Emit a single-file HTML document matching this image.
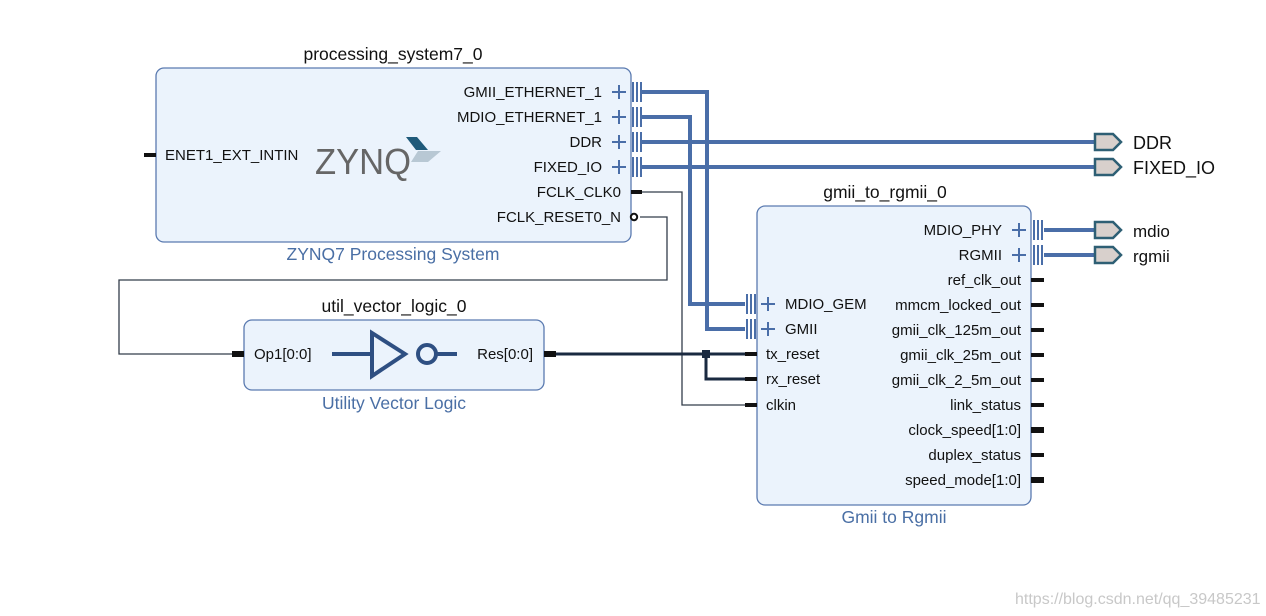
<!DOCTYPE html>
<html><head><meta charset="utf-8"><style>
html,body{margin:0;padding:0;background:#fff;}
svg{display:block;}
text{font-family:"Liberation Sans",sans-serif;}
</style></head><body>
<svg width="1266" height="616" viewBox="0 0 1266 616" xmlns="http://www.w3.org/2000/svg">
<rect width="1266" height="616" fill="#fff"/>
<g fill="none" stroke="#333d4a" stroke-width="1.3">
<polyline points="642,192 682,192 682,405 745,405"/>
<polyline points="640,217 667,217 667,280 119,280 119,354 232,354"/>
</g>
<g fill="none" stroke="#1a2a40" stroke-width="3">
<polyline points="556,354 745,354"/>
<polyline points="706,354 706,379 745,379"/>
</g>
<rect x="702" y="350" width="8" height="8" fill="#1a2a40"/>
<g fill="none" stroke="#4a6ea8" stroke-width="4">
<polyline points="642,92 707,92 707,329 745,329"/>
<polyline points="642,117 690,117 690,304 745,304"/>
<polyline points="642,142 1094,142"/>
<polyline points="642,167 1094,167"/>
<polyline points="1044,230 1094,230"/>
<polyline points="1044,255 1094,255"/>
</g>
<text x="393" y="60" font-size="17.5" text-anchor="middle" fill="#111">processing_system7_0</text>
<rect x="156" y="68" width="475" height="174" rx="8" fill="#ebf3fc" stroke="#5a7ab0" stroke-width="1.3"/>
<text x="393" y="260" font-size="17.5" text-anchor="middle" fill="#4a6fa5">ZYNQ7 Processing System</text>
<rect x="144" y="153" width="12" height="4" fill="#111"/>
<text x="165" y="160" font-size="15" fill="#111">ENET1_EXT_INTIN</text>
<text x="315" y="174" font-size="36" fill="#666" textLength="96" lengthAdjust="spacingAndGlyphs">ZYNQ</text>
<polygon points="406,137 417,137 428,150 416,150" fill="#1f5a7a"/>
<polygon points="418,151 441,151 428,162 411,162" fill="#b8c8d4"/>
<g font-size="15" fill="#111" text-anchor="end">
<text x="602" y="97">GMII_ETHERNET_1</text>
<text x="602" y="122">MDIO_ETHERNET_1</text>
<text x="602" y="147">DDR</text>
<text x="602" y="172">FIXED_IO</text>
<text x="621" y="197">FCLK_CLK0</text>
<text x="621" y="222">FCLK_RESET0_N</text>
</g>
<g stroke="#4a6ea8" stroke-width="2" fill="none">
<path d="M612,92h14M619,85v14M612,117h14M619,110v14M612,142h14M619,135v14M612,167h14M619,160v14"/>
<path d="M633,82v20M637,82v20M641,82v20M633,107v20M637,107v20M641,107v20M633,132v20M637,132v20M641,132v20M633,157v20M637,157v20M641,157v20"/>
</g>
<rect x="631" y="190" width="11" height="4" fill="#111"/>
<circle cx="634" cy="217" r="3.2" fill="#fff" stroke="#111" stroke-width="2"/>
<text x="394" y="312" font-size="17.5" text-anchor="middle" fill="#111">util_vector_logic_0</text>
<rect x="244" y="320" width="300" height="70" rx="8" fill="#ebf3fc" stroke="#5a7ab0" stroke-width="1.3"/>
<text x="394" y="409" font-size="17.5" text-anchor="middle" fill="#4a6fa5">Utility Vector Logic</text>
<rect x="232" y="351" width="12" height="6" fill="#111"/>
<rect x="544" y="351" width="12" height="6" fill="#111"/>
<text x="254" y="359" font-size="15" fill="#111">Op1[0:0]</text>
<text x="533" y="359" font-size="15" fill="#111" text-anchor="end">Res[0:0]</text>
<g stroke="#2e4f82" stroke-width="4" fill="none">
<line x1="332" y1="354" x2="372" y2="354"/>
<polygon points="372,333 372,376 405,354"/>
<circle cx="427" cy="354" r="9"/>
<line x1="436" y1="354" x2="457" y2="354"/>
</g>
<text x="885" y="198" font-size="17.5" text-anchor="middle" fill="#111">gmii_to_rgmii_0</text>
<rect x="757" y="206" width="274" height="299" rx="8" fill="#ebf3fc" stroke="#5a7ab0" stroke-width="1.3"/>
<text x="894" y="523" font-size="17.5" text-anchor="middle" fill="#4a6fa5">Gmii to Rgmii</text>
<g stroke="#4a6ea8" stroke-width="2" fill="none">
<path d="M747,294v20M751,294v20M755,294v20M747,319v20M751,319v20M755,319v20"/>
<path d="M761,304h14M768,297v14M761,329h14M768,322v14"/>
<path d="M1012,230h14M1019,223v14M1012,255h14M1019,248v14"/>
<path d="M1034,220v20M1038,220v20M1042,220v20M1034,245v20M1038,245v20M1042,245v20"/>
</g>
<g font-size="15" fill="#111">
<text x="785" y="309">MDIO_GEM</text>
<text x="785" y="334">GMII</text>
<text x="766" y="359">tx_reset</text>
<text x="766" y="384">rx_reset</text>
<text x="766" y="410">clkin</text>
</g>
<g fill="#111">
<rect x="745" y="352" width="12" height="4"/>
<rect x="745" y="377" width="12" height="4"/>
<rect x="745" y="403" width="12" height="4"/>
</g>
<g font-size="15" fill="#111" text-anchor="end">
<text x="1002" y="235">MDIO_PHY</text>
<text x="1002" y="260">RGMII</text>
<text x="1021" y="285">ref_clk_out</text>
<text x="1021" y="310">mmcm_locked_out</text>
<text x="1021" y="335">gmii_clk_125m_out</text>
<text x="1021" y="360">gmii_clk_25m_out</text>
<text x="1021" y="385">gmii_clk_2_5m_out</text>
<text x="1021" y="410">link_status</text>
<text x="1021" y="435">clock_speed[1:0]</text>
<text x="1021" y="460">duplex_status</text>
<text x="1021" y="485">speed_mode[1:0]</text>
</g>
<g fill="#111">
<rect x="1031" y="278" width="13" height="4"/>
<rect x="1031" y="303" width="13" height="4"/>
<rect x="1031" y="328" width="13" height="4"/>
<rect x="1031" y="353" width="13" height="4"/>
<rect x="1031" y="378" width="13" height="4"/>
<rect x="1031" y="403" width="13" height="4"/>
<rect x="1031" y="427" width="13" height="6"/>
<rect x="1031" y="453" width="13" height="4"/>
<rect x="1031" y="477" width="13" height="6"/>
</g>
<g fill="#d8d0cc" stroke="#2e5f74" stroke-width="2.5">
<polygon points="1095,134 1113,134 1121,142 1113,150 1095,150"/>
<polygon points="1095,159 1113,159 1121,167 1113,175 1095,175"/>
<polygon points="1095,222 1113,222 1121,230 1113,238 1095,238"/>
<polygon points="1095,247 1113,247 1121,255 1113,263 1095,263"/>
</g>
<g fill="#111">
<text x="1133" y="149" font-size="18">DDR</text>
<text x="1133" y="174" font-size="18">FIXED_IO</text>
<text x="1133" y="237" font-size="17">mdio</text>
<text x="1133" y="262" font-size="17">rgmii</text>
</g>
<text x="1015" y="604" font-size="16" fill="#c8c8c8">https://blog.csdn.net/qq_39485231</text>
</svg>
</body></html>
